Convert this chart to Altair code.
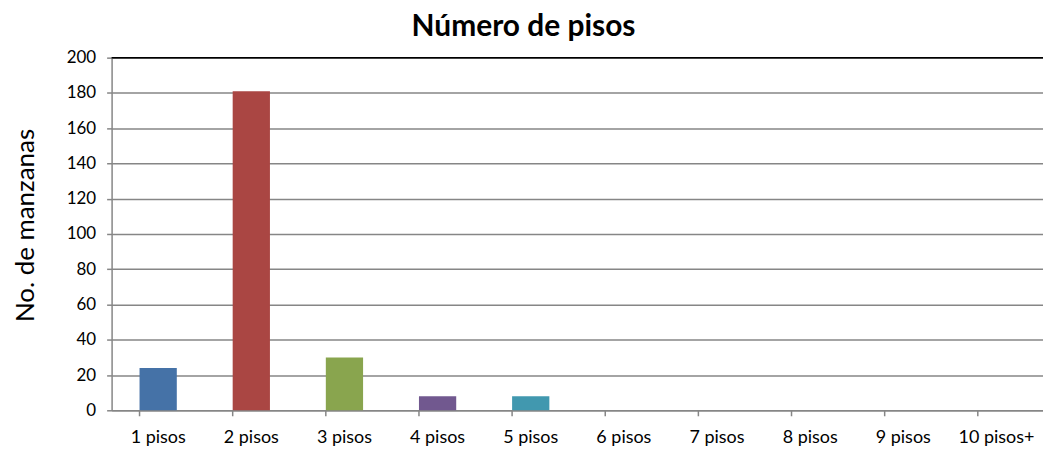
import altair as alt
import pandas as pd

categories = ["1 pisos", "2 pisos", "3 pisos", "4 pisos", "5 pisos",
              "6 pisos", "7 pisos", "8 pisos", "9 pisos", "10 pisos+"]
values = [24, 181, 30, 8, 8, 0, 0, 0, 0, 0]
colors = ["#4572a7", "#aa4643", "#89a54e", "#71588f", "#4198af",
          "#db843d", "#93a9cf", "#d19392", "#b9cd96", "#a99bbd"]
y_ticks = [0, 20, 40, 60, 80, 100, 120, 140, 160, 180, 200]

df = pd.DataFrame({"cat": categories, "val": values, "col": colors})

W, H = 935, 354
FONT = "Lato"

xenc = alt.X("cat:N", sort=categories, title=None,
             scale=alt.Scale(paddingInner=0.6, paddingOuter=0.3),
             axis=alt.Axis(labelAngle=0, labelFontSize=18, labelColor="#000000",
                           labelFont=FONT, ticks=False, labelPadding=18,
                           domainColor="#868686", domainWidth=1.5))
yscale = alt.Scale(domain=[0, 200], nice=False)

bars = alt.Chart(df).mark_bar().encode(
    x=xenc,
    y=alt.Y("val:Q", scale=yscale, title="No. de manzanas",
            axis=alt.Axis(values=y_ticks, labelOverlap=False,
                          labelFontSize=17,
                          labelFont=FONT, labelColor="#000000",
                          titleFont=FONT, titleFontSize=26, titleFontWeight="normal",
                          titleColor="#000000", titlePadding=28, titleY=168,
                          tickSize=5, tickColor="#868686", tickWidth=1.5,
                          labelPadding=11, domainColor="#868686", domainWidth=1.5,
                          gridColor="#868686", gridWidth=1.5)),
    color=alt.Color("col:N", scale=None, legend=None),
)

ticks = alt.Chart(df).mark_rule(color="#868686", strokeWidth=1.5).encode(
    x=alt.X("cat:N", sort=categories, bandPosition=0),
    y=alt.value(H), y2=alt.value(H + 6),
)

top = alt.Chart(pd.DataFrame({"v": [200]})).mark_rule(color="#000000", strokeWidth=1.5).encode(
    x=alt.value(0), x2=alt.value(W), y=alt.value(0),
)

chart = alt.layer(bars, ticks, top).properties(
    width=W, height=H,
    title=alt.TitleParams("Número de pisos", font=FONT, fontSize=30,
                          fontWeight="bold", color="#000000", offset=7, dx=-54),
    autosize=alt.AutoSizeParams(type="none"),
    padding={"left": 104, "top": 49, "right": 0, "bottom": 35},
).configure_view(stroke=None)

chart.save("out.html", embed_options={"renderer": "svg", "actions": False})
